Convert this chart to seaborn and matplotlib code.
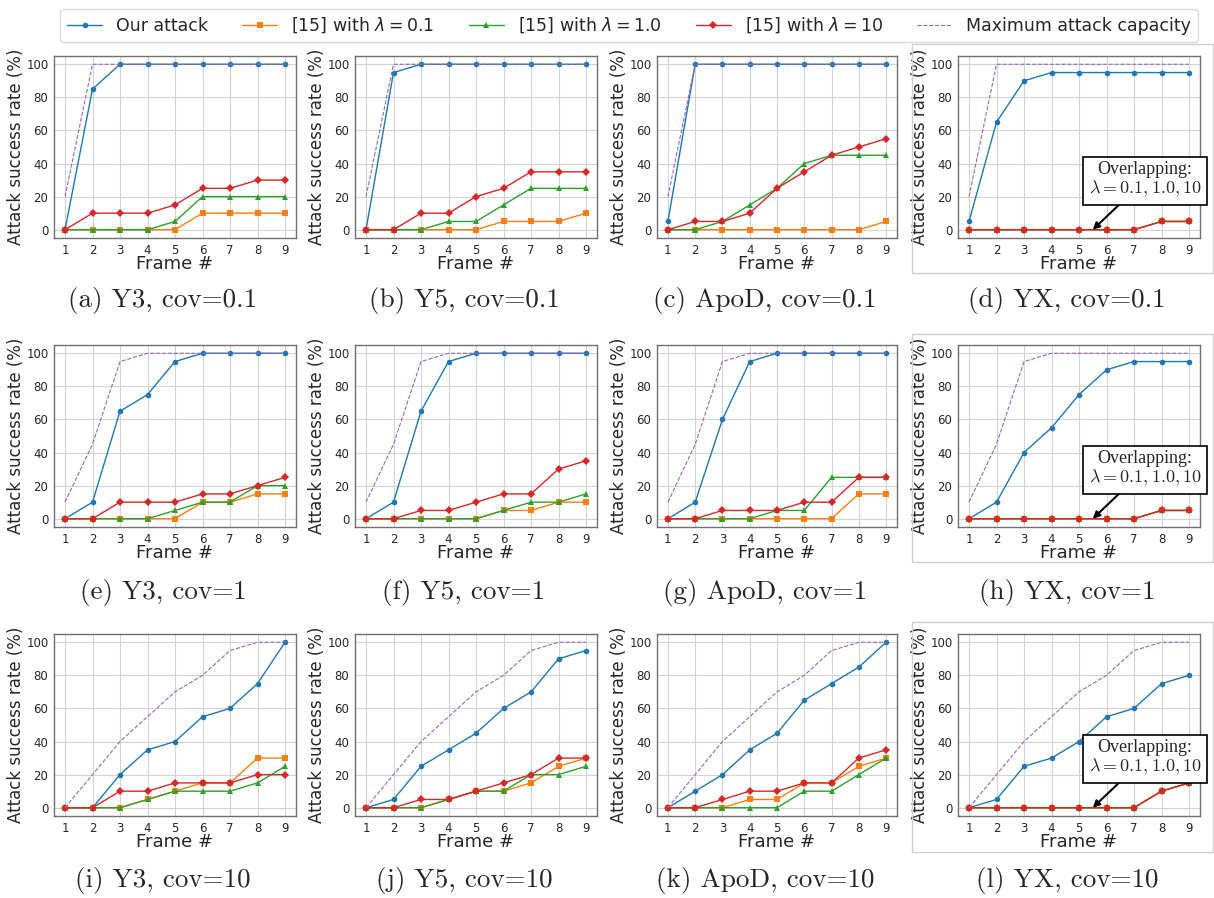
import numpy as np
import pandas as pd
import matplotlib
matplotlib.use("Agg")
import matplotlib.pyplot as plt
import seaborn as sns
from matplotlib.patches import Rectangle

FRAMES = [1, 2, 3, 4, 5, 6, 7, 8, 9]
PANELS = ["a", "b", "c", "d", "e", "f", "g", "h", "i", "j", "k", "l"]
CAPTIONS = [
    "(a) Y3, cov=0.1", "(b) Y5, cov=0.1", "(c) ApoD, cov=0.1", "(d) YX, cov=0.1",
    "(e) Y3, cov=1", "(f) Y5, cov=1", "(g) ApoD, cov=1", "(h) YX, cov=1",
    "(i) Y3, cov=10", "(j) Y5, cov=10", "(k) ApoD, cov=10", "(l) YX, cov=10",
]

# maximum attack capacity, one per covariance row
CAPACITY_01 = [20, 100, 100, 100, 100, 100, 100, 100, 100]
CAPACITY_1 = [10, 45, 95, 100, 100, 100, 100, 100, 100]
CAPACITY_10 = [0, 20, 40, 55, 70, 80, 95, 100, 100]

OUR_ATTACK = {
    "a": [0, 85, 100, 100, 100, 100, 100, 100, 100],
    "b": [0, 95, 100, 100, 100, 100, 100, 100, 100],
    "c": [5, 100, 100, 100, 100, 100, 100, 100, 100],
    "d": [5, 65, 90, 95, 95, 95, 95, 95, 95],
    "e": [0, 10, 65, 75, 95, 100, 100, 100, 100],
    "f": [0, 10, 65, 95, 100, 100, 100, 100, 100],
    "g": [0, 10, 60, 95, 100, 100, 100, 100, 100],
    "h": [0, 10, 40, 55, 75, 90, 95, 95, 95],
    "i": [0, 0, 20, 35, 40, 55, 60, 75, 100],
    "j": [0, 5, 25, 35, 45, 60, 70, 90, 95],
    "k": [0, 10, 20, 35, 45, 65, 75, 85, 100],
    "l": [0, 5, 25, 30, 40, 55, 60, 75, 80],
}
LAMBDA_01 = {
    "a": [0, 0, 0, 0, 0, 10, 10, 10, 10],
    "b": [0, 0, 0, 0, 0, 5, 5, 5, 10],
    "c": [0, 0, 0, 0, 0, 0, 0, 0, 5],
    "d": [0, 0, 0, 0, 0, 0, 0, 5, 5],
    "e": [0, 0, 0, 0, 0, 10, 10, 15, 15],
    "f": [0, 0, 0, 0, 0, 5, 5, 10, 10],
    "g": [0, 0, 0, 0, 0, 0, 0, 15, 15],
    "h": [0, 0, 0, 0, 0, 0, 0, 5, 5],
    "i": [0, 0, 0, 5, 10, 15, 15, 30, 30],
    "j": [0, 0, 0, 5, 10, 10, 15, 25, 30],
    "k": [0, 0, 0, 5, 5, 15, 15, 25, 30],
    "l": [0, 0, 0, 0, 0, 0, 0, 10, 15],
}
LAMBDA_1 = {
    "a": [0, 0, 0, 0, 5, 20, 20, 20, 20],
    "b": [0, 0, 0, 5, 5, 15, 25, 25, 25],
    "c": [0, 0, 5, 15, 25, 40, 45, 45, 45],
    "d": [0, 0, 0, 0, 0, 0, 0, 5, 5],
    "e": [0, 0, 0, 0, 5, 10, 10, 20, 20],
    "f": [0, 0, 0, 0, 0, 5, 10, 10, 15],
    "g": [0, 0, 0, 0, 5, 5, 25, 25, 25],
    "h": [0, 0, 0, 0, 0, 0, 0, 5, 5],
    "i": [0, 0, 0, 5, 10, 10, 10, 15, 25],
    "j": [0, 0, 0, 5, 10, 10, 20, 20, 25],
    "k": [0, 0, 0, 0, 0, 10, 10, 20, 30],
    "l": [0, 0, 0, 0, 0, 0, 0, 10, 15],
}
LAMBDA_10 = {
    "a": [0, 10, 10, 10, 15, 25, 25, 30, 30],
    "b": [0, 0, 10, 10, 20, 25, 35, 35, 35],
    "c": [0, 5, 5, 10, 25, 35, 45, 50, 55],
    "d": [0, 0, 0, 0, 0, 0, 0, 5, 5],
    "e": [0, 0, 10, 10, 10, 15, 15, 20, 25],
    "f": [0, 0, 5, 5, 10, 15, 15, 30, 35],
    "g": [0, 0, 5, 5, 5, 10, 10, 25, 25],
    "h": [0, 0, 0, 0, 0, 0, 0, 5, 5],
    "i": [0, 0, 10, 10, 15, 15, 15, 20, 20],
    "j": [0, 0, 5, 5, 10, 15, 20, 30, 30],
    "k": [0, 0, 5, 10, 10, 15, 15, 30, 35],
    "l": [0, 0, 0, 0, 0, 0, 0, 10, 15],
}
CAPACITY = {p: c for row, c in zip(["abcd", "efgh", "ijkl"], [CAPACITY_01, CAPACITY_1, CAPACITY_10]) for p in row}

SERIES = [
    ("Our attack", OUR_ATTACK, "tab:blue", "o"),
    (r"[15] with $\lambda = 0.1$", LAMBDA_01, "tab:orange", "s"),
    (r"[15] with $\lambda = 1.0$", LAMBDA_1, "tab:green", "^"),
    (r"[15] with $\lambda = 10$", LAMBDA_10, "tab:red", "D"),
]

W, H = 1214, 898
COL_LEFT = [54, 355, 657, 958]
COL_WIDTH = [242, 242, 240, 242]
ROW_TOP = [56, 345, 634]
AX_H = 182
CAPTION_Y = [300, 593, 880]

sns.set_style("white")
plt.rcParams["font.family"] = ["DejaVu Sans"]

fig = plt.figure(figsize=(W / 100, H / 100), dpi=100)

# light frames around the last column (pasted images in the original)
for top, bottom in [(44, 273), (334, 562), (622, 852)]:
    fig.patches.append(Rectangle((912 / W, 1 - bottom / H), (W - 1 - 912) / W, (bottom - top) / H,
                                 transform=fig.transFigure, fill=False, edgecolor="#d0d0d0", lw=1.0))

for idx, panel in enumerate(PANELS):
    r, c = divmod(idx, 4)
    ax = fig.add_axes([COL_LEFT[c] / W, 1 - (ROW_TOP[r] + AX_H) / H, COL_WIDTH[c] / W, AX_H / H])
    for label, table, color, marker in SERIES:
        sns.lineplot(x=FRAMES, y=table[panel], ax=ax, color=color, marker=marker, markersize=4,
                     markeredgewidth=0, linewidth=1.0, label=label, legend=False)
    sns.lineplot(x=FRAMES, y=CAPACITY[panel], ax=ax, color="tab:purple", linestyle="--", linewidth=0.8,
                 label="Maximum attack capacity", legend=False)
    ax.set_xticks(FRAMES)
    ax.set_yticks([0, 20, 40, 60, 80, 100])
    ax.tick_params(labelsize=8.5, length=2.5, color="#707070", width=0.8, pad=1.5)
    ax.grid(True, color="#d3d3d3", linewidth=0.8)
    for s in ax.spines.values():
        s.set_color("#707070")
        s.set_linewidth(1.0)
    ax.set_xlabel("Frame #", fontsize=13, labelpad=-1)
    ax.set_ylabel("Attack success rate (%)", fontsize=12, labelpad=1)
    if c == 3:
        ax.annotate("Overlapping:\n" + r"$\lambda = 0.1, 1.0, 10$", xy=(5.5, 0), xytext=(7.4, 30),
                    ha="center", va="center", fontsize=13, family="Liberation Serif",
                    math_fontfamily="cm", linespacing=1.1,
                    bbox=dict(boxstyle="square,pad=0.3", facecolor="white", edgecolor="black", lw=1.2),
                    arrowprops=dict(arrowstyle="-|>", color="black", lw=1.5, shrinkA=0, shrinkB=0,
                                    mutation_scale=10))
    fig.text((COL_LEFT[c] + COL_WIDTH[c] / 2 - 12) / W, 1 - CAPTION_Y[r] / H, CAPTIONS[idx],
             ha="center", va="center", fontsize=19.5, family="cmr10")

handles, labels = fig.axes[0].get_legend_handles_labels()
fig.legend(handles, labels, loc="upper center", bbox_to_anchor=(629 / W, 1.0), ncol=5, fontsize=12.5,
           frameon=True, edgecolor="#d0d0d0", handlelength=2.0, columnspacing=2.0, borderpad=0.4)

fig.savefig("out.png", dpi=100)
